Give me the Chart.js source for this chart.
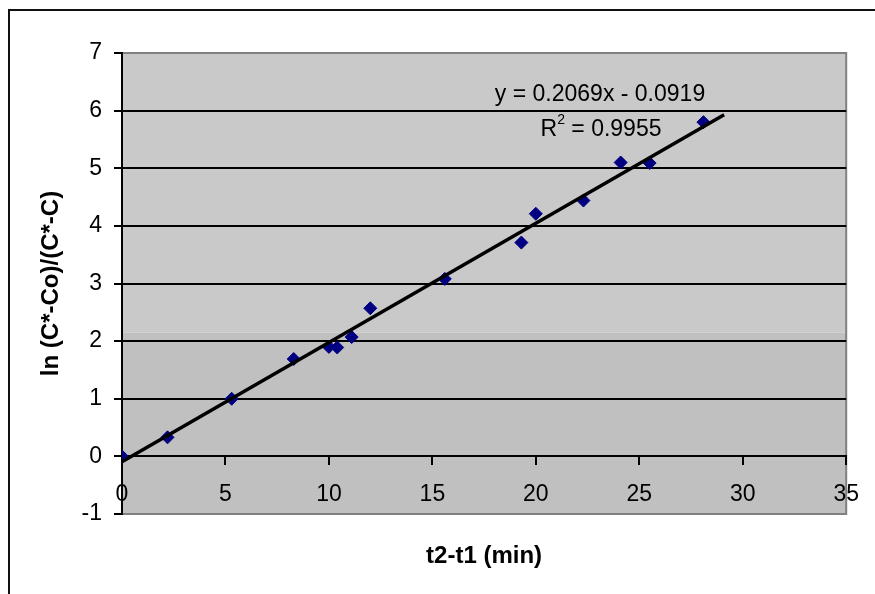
<!DOCTYPE html>
<html>
<head>
<meta charset="utf-8">
<script src="https://cdn.jsdelivr.net/npm/chart.js@4/dist/chart.umd.min.js"></script>
<style>
  html, body { margin: 0; padding: 0; background: #fff; }
  #wrap { width: 875px; height: 594px; }
</style>
</head>
<body>
<div id="wrap"><canvas id="rateChart"></canvas></div>
<script>
// elapsed time (min) and ln((C*-Co)/(C*-C))
const times = [0, 2.2, 5.3, 8.3, 10.0, 10.4, 11.1, 12.0, 15.6, 19.3, 20.0, 22.3, 24.1, 25.5, 28.1];
const lnRatio = [0, 0.33, 1.0, 1.69, 1.90, 1.89, 2.07, 2.57, 3.08, 3.71, 4.21, 4.44, 5.10, 5.09, 5.80];

// linear fit shown on the chart
const slope = 0.2069;
const intercept = -0.0919;
const rSquared = 0.9955;
const fitRange = [0, 29.1];

const xTicks = [0, 5, 10, 15, 20, 25, 30, 35];
const yTicks = [-1, 0, 1, 2, 3, 4, 5, 6, 7];

const fontFamily = "'Liberation Sans', Arial, sans-serif";

const fitLine = fitRange.map(x => ({ x: x, y: slope * x + intercept }));
const points = times.map((t, i) => ({ x: t, y: lnRatio[i] }));

const plotBackground = {
  id: 'plotBackground',
  beforeDraw(chart) {
    const { ctx, chartArea: a, scales } = chart;
    ctx.save();
    ctx.fillStyle = '#fff';
    ctx.fillRect(0, 0, chart.width, chart.height);

    // outer frame
    ctx.strokeStyle = '#111';
    ctx.lineWidth = 2;
    ctx.beginPath();
    ctx.moveTo(875, 10);
    ctx.lineTo(9, 10);
    ctx.lineTo(9, 594);
    ctx.stroke();

    // plot area, lighter above the band edge
    const band = scales.y.getPixelForValue(2.15);
    ctx.fillStyle = '#c9c9c9';
    ctx.fillRect(a.left, a.top, a.right - a.left, band - a.top);
    ctx.fillStyle = '#c0c0c0';
    ctx.fillRect(a.left, band, a.right - a.left, a.bottom - band);

    ctx.strokeStyle = '#808080';
    ctx.lineWidth = 2;
    ctx.beginPath();
    ctx.moveTo(a.left, a.top);
    ctx.lineTo(a.right, a.top);
    ctx.lineTo(a.right, a.bottom);
    ctx.lineTo(a.left, a.bottom);
    ctx.stroke();
    ctx.restore();
  },
  afterDraw(chart) {
    const { ctx } = chart;
    ctx.save();
    ctx.fillStyle = '#000';
    ctx.textBaseline = 'middle';
    ctx.font = '23px ' + fontFamily;
    ctx.textAlign = 'center';
    ctx.fillText('y = ' + slope.toFixed(4) + 'x - ' + Math.abs(intercept).toFixed(4), 600, 95);

    // R² with a raised small 2
    const rest = ' = ' + rSquared.toFixed(4);
    const wR = ctx.measureText('R').width;
    ctx.font = '14px ' + fontFamily;
    const w2 = ctx.measureText('2').width;
    ctx.font = '23px ' + fontFamily;
    const wRest = ctx.measureText(rest).width;
    let x = 601 - (wR + w2 + wRest) / 2;
    ctx.textAlign = 'left';
    ctx.fillText('R', x, 130);
    x += wR;
    ctx.font = '14px ' + fontFamily;
    ctx.fillText('2', x, 120);
    x += w2;
    ctx.font = '23px ' + fontFamily;
    ctx.fillText(rest, x, 130);
    ctx.restore();
  }
};

new Chart(document.getElementById('rateChart'), {
  type: 'scatter',
  data: {
    datasets: [
      {
        type: 'line',
        label: 'fit',
        data: fitLine,
        borderColor: '#000',
        borderWidth: 3.5,
        pointRadius: 0,
        fill: false,
        order: 0
      },
      {
        label: 'data',
        data: points,
        pointStyle: 'rectRot',
        pointRadius: 6.5,
        pointBackgroundColor: '#000080',
        pointBorderColor: '#000080',
        pointBorderWidth: 1,
        order: 1
      }
    ]
  },
  plugins: [plotBackground],
  options: {
    responsive: true,
    maintainAspectRatio: false,
    animation: false,
    layout: { padding: { top: 53, right: 28, bottom: 80, left: 0 } },
    plugins: {
      legend: { display: false },
      tooltip: { enabled: false }
    },
    scales: {
      x: {
        type: 'linear',
        position: { y: 0 },
        min: 0,
        max: 35,
        afterBuildTicks: s => { s.ticks = xTicks.map(v => ({ value: v })); },
        afterFit: s => { s.height = 114; },
        grid: {
          drawOnChartArea: false,
          drawTicks: true,
          tickLength: 8,
          tickColor: '#000',
          lineWidth: 2
        },
        border: { color: '#000', width: 2 },
        ticks: {
          color: '#000',
          padding: 16,
          maxRotation: 0,
          font: { family: fontFamily, size: 23 }
        },
        title: {
          display: true,
          text: 't2-t1 (min)',
          color: '#000',
          padding: { top: 0, bottom: 0 },
          font: { family: fontFamily, size: 24, weight: 'bold' }
        }
      },
      y: {
        type: 'linear',
        position: 'left',
        min: -1,
        max: 7,
        afterBuildTicks: s => { s.ticks = yTicks.map(v => ({ value: v })); },
        afterFit: s => { s.width = 122; },
        grid: {
          color: c => (c.tick && c.tick.value >= 0 && c.tick.value <= 6) ? '#000' : 'rgba(0,0,0,0)',
          lineWidth: 2,
          drawTicks: true,
          tickLength: 8,
          tickColor: '#000'
        },
        border: { color: '#000', width: 2 },
        ticks: {
          color: '#000',
          padding: 12,
          font: { family: fontFamily, size: 23 }
        },
        title: {
          display: true,
          text: 'ln (C*-Co)/(C*-C)',
          color: '#000',
          padding: { top: 37, bottom: 0 },
          font: { family: fontFamily, size: 24, weight: 'bold' }
        }
      }
    }
  }
});
</script>
</body>
</html>
